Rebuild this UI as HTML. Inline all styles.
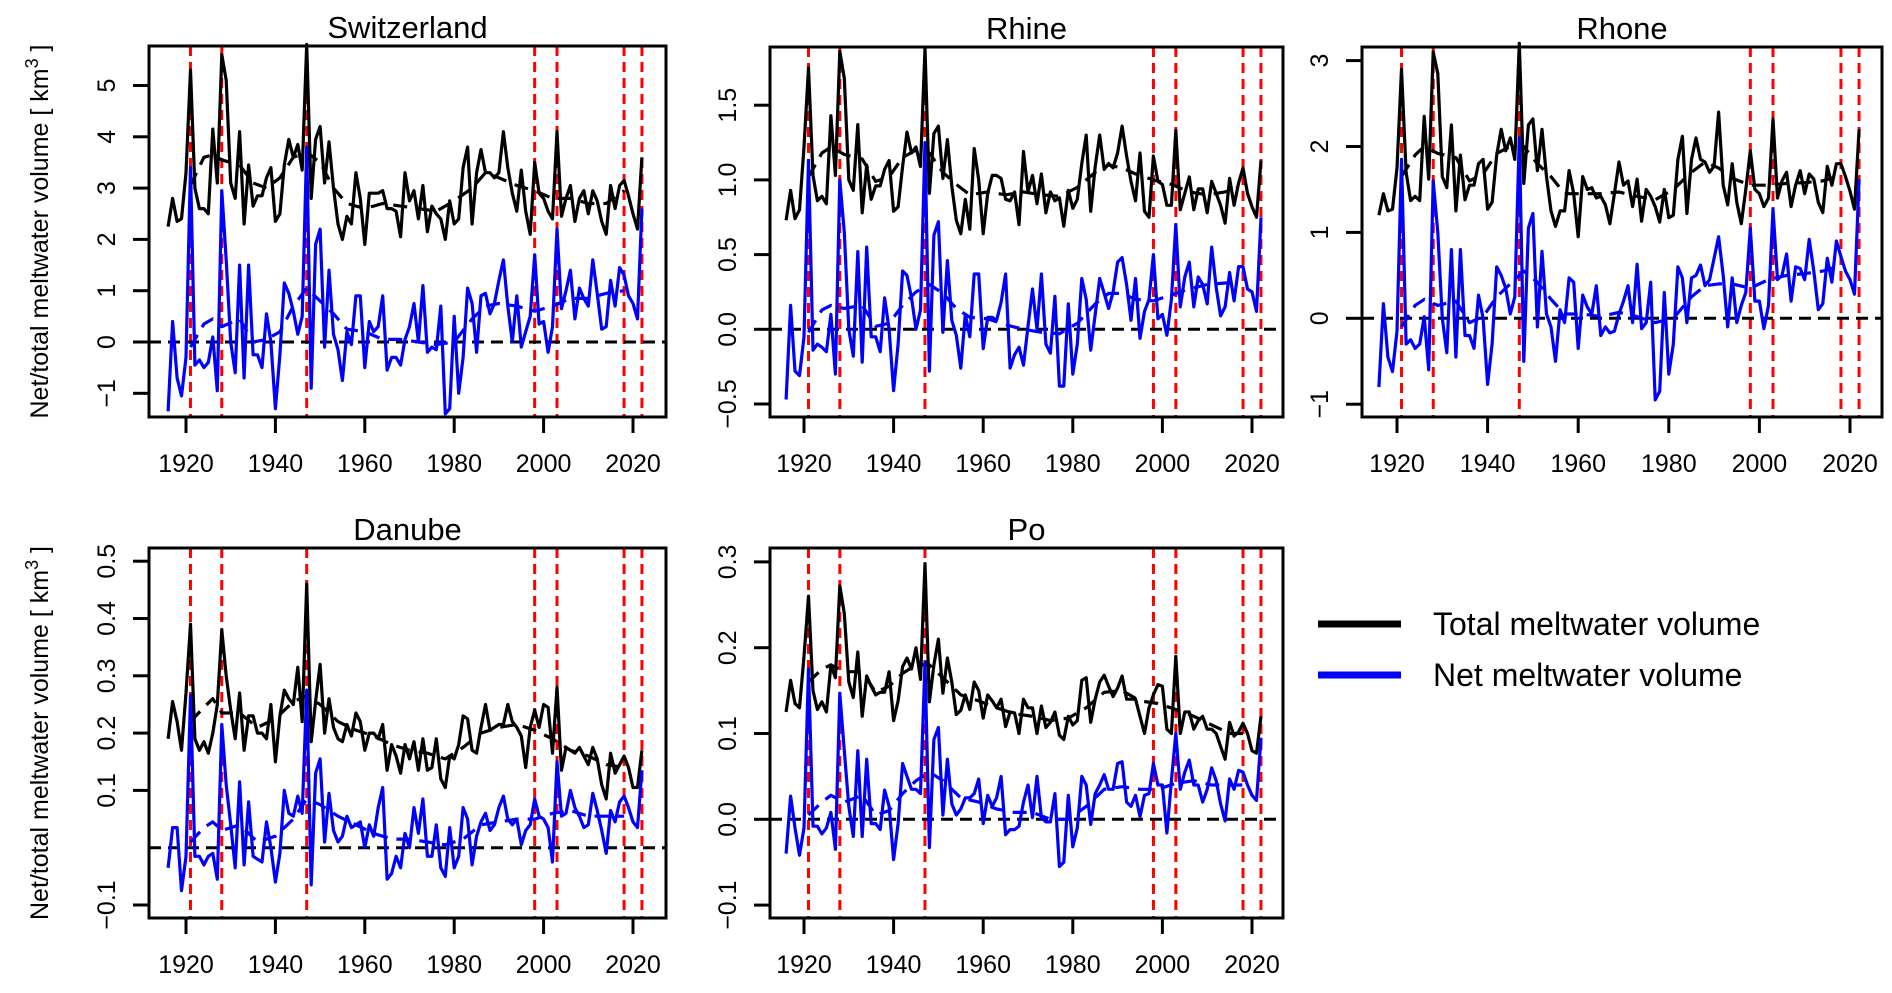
<!DOCTYPE html>
<html><head><meta charset="utf-8">
<style>
html,body{margin:0;padding:0;background:#fff;}
svg{display:block;font-family:"Liberation Sans",Arial,sans-serif;}
</style></head>
<body>
<svg id="chart" width="1892" height="993" viewBox="0 0 1892 993" xmlns="http://www.w3.org/2000/svg">
  <g>
    <line x1="1318" y1="624" x2="1401" y2="624" stroke="#000" stroke-width="7"/>
    <text x="1433" y="635" font-size="32">Total meltwater volume</text>
    <line x1="1318" y1="675" x2="1401" y2="675" stroke="#0000ff" stroke-width="7"/>
    <text x="1433" y="686" font-size="32">Net meltwater volume</text>
  </g>
</svg>
<script>
// ---- data ----
const eventYears = [1921, 1928, 1947, 1998, 2003, 2018, 2022];

const swTotal = [2.25,2.8,2.35,2.4,3.3,5.3,3.0,2.6,2.6,2.5,
 4.15,3.1,5.6,5.1,3.1,2.8,4.1,2.3,3.45,2.65,
 2.85,2.85,3.2,3.4,2.35,2.5,3.45,3.95,3.6,3.85,
 3.35,5.8,2.8,3.95,4.2,3.1,3.9,3.0,2.3,2.0,
 2.45,2.3,3.3,2.8,1.9,2.9,2.9,2.9,2.95,2.6,
 2.6,2.55,2.05,3.3,2.75,2.95,2.4,3.05,2.15,2.65,
 2.5,2.4,2.0,2.75,2.3,2.4,3.4,3.8,2.3,3.3,
 3.75,3.3,3.3,3.2,3.3,4.1,3.4,2.9,2.55,3.35,
 2.55,2.1,3.5,2.9,2.8,2.55,2.4,4.1,2.45,2.8,
 3.05,2.35,2.8,2.95,2.5,2.95,2.75,2.35,2.1,3.05,
 2.6,3.05,3.15,2.85,2.5,2.2,3.6];
const swNet = [-1.35,0.4,-0.7,-1.05,-0.3,3.4,-0.45,-0.35,-0.5,-0.4,
 0.1,-0.95,2.95,1.6,0.0,-0.6,1.5,-0.7,1.5,-0.25,
 -0.25,-0.5,0.55,0.0,-1.3,-0.25,1.15,0.95,0.6,0.15,
 0.5,3.8,-0.9,1.9,2.2,-0.1,1.4,0.15,-0.15,-0.75,
 0.2,-0.05,0.9,0.9,-0.5,0.4,0.2,0.3,0.9,-0.55,
 -0.3,-0.3,-0.45,0.05,0.3,0.75,0.0,1.1,-0.2,-0.1,
 -0.15,0.7,-1.4,-1.3,0.5,-1.0,-0.3,1.05,0.75,-0.2,
 0.9,0.95,0.55,0.75,1.2,1.6,0.7,0.0,0.9,-0.1,
 0.2,0.5,1.7,0.35,0.4,-0.2,0.3,2.2,0.65,1.0,
 1.4,0.45,1.05,0.85,0.7,1.6,0.95,0.25,0.3,1.2,
 0.7,1.45,1.3,0.9,0.75,0.45,2.6];
const swSmoothYears = [1921,1924,1926,1928,1932,1935,1938,1941,1944,1947,1950,1953,1956,1960,1964,1968,1972,1976,1980,1984,1987,1990,1994,1998,2002,2006,2010,2014,2018];
const swTotalSmooth = [3.05,3.6,3.65,3.55,3.45,3.1,3.0,3.2,3.6,3.7,3.5,3.0,2.7,2.6,2.7,2.65,2.6,2.55,2.75,3.0,3.3,3.2,3.05,2.95,2.8,2.8,2.7,2.7,2.95];
const swNetSmooth = [-0.1,0.35,0.45,0.3,0.45,0.0,0.05,0.2,0.7,1.05,0.8,0.55,0.25,0.2,0.05,0.05,0.0,-0.05,0.0,0.45,0.7,0.75,0.7,0.6,0.7,0.85,0.85,0.95,1.0];

const rhTotal = [0.73,0.93,0.74,0.80,1.22,1.75,1.03,0.86,0.89,0.84,
 1.43,1.03,1.86,1.68,1.0,0.93,1.37,0.78,1.10,0.87,
 0.96,0.96,1.07,1.13,0.79,0.82,1.09,1.32,1.18,1.22,
 1.09,1.88,0.91,1.31,1.36,1.01,1.27,0.96,0.73,0.64,
 0.87,0.67,1.21,1.0,0.64,0.91,1.03,1.03,1.01,0.87,
 0.86,0.92,0.70,1.19,0.92,1.03,0.84,1.04,0.78,0.92,
 0.86,0.88,0.69,0.93,0.81,0.87,1.11,1.30,0.79,1.09,
 1.30,1.07,1.11,1.08,1.18,1.36,1.16,0.99,0.86,1.18,
 0.79,0.75,1.16,0.99,0.97,0.83,0.83,1.33,0.80,0.91,
 1.02,0.80,0.94,0.94,0.78,0.99,0.91,0.83,0.71,1.01,
 0.83,0.98,1.08,0.91,0.82,0.75,1.13];
const rhNet = [-0.47,0.16,-0.28,-0.31,-0.05,1.13,-0.14,-0.1,-0.12,-0.15,
 0.1,-0.3,1.0,0.65,0.0,-0.18,0.52,-0.22,0.55,-0.05,
 -0.05,-0.15,0.21,0.0,-0.41,-0.1,0.39,0.36,0.21,0.0,
 0.13,1.25,-0.28,0.63,0.72,-0.02,0.46,0.06,-0.04,-0.26,
 0.1,-0.05,0.37,0.37,-0.13,0.08,0.08,0.06,0.18,0.37,
 -0.26,-0.17,-0.12,-0.24,0.02,0.27,0.0,0.37,-0.1,-0.16,
 0.22,-0.38,-0.38,0.17,-0.3,-0.1,0.34,0.2,-0.14,0.1,
 0.34,0.24,0.14,0.25,0.45,0.48,0.3,0.06,0.34,-0.06,
 0.12,0.2,0.5,0.07,0.1,-0.04,0.2,0.7,0.15,0.35,
 0.45,0.15,0.35,0.3,0.17,0.55,0.28,0.09,0.15,0.38,
 0.19,0.42,0.42,0.27,0.25,0.12,0.75];
const rhSmoothYears = [1921,1924,1926,1929,1933,1936,1939,1942,1945,1948,1951,1954,1957,1961,1965,1969,1973,1977,1981,1985,1988,1991,1994,1998,2002,2006,2010,2014,2017];
const rhTotalSmooth = [1.02,1.18,1.22,1.17,1.14,0.99,1.02,1.15,1.2,1.18,1.05,0.97,0.9,0.92,0.9,0.92,0.9,0.89,0.95,1.05,1.1,1.08,1.04,1.0,0.97,0.92,0.9,0.92,0.95];
const rhNetSmooth = [-0.02,0.13,0.16,0.14,0.16,0.02,0.04,0.16,0.25,0.3,0.24,0.14,0.08,0.07,0.03,0.0,-0.02,-0.03,0.04,0.17,0.24,0.24,0.2,0.19,0.23,0.27,0.3,0.31,0.31];

const roTotal = [1.2,1.45,1.25,1.27,1.75,2.9,1.7,1.37,1.42,1.37,
 2.35,1.62,3.1,2.85,1.65,1.52,2.25,1.25,1.9,1.38,
 1.55,1.55,1.8,1.85,1.27,1.35,1.9,2.2,1.95,2.1,
 1.85,3.2,1.57,2.25,2.32,1.72,2.2,1.65,1.25,1.07,
 1.25,1.25,1.72,1.45,0.95,1.65,1.5,1.52,1.4,1.42,
 1.32,1.1,1.45,1.82,1.55,1.6,1.3,1.62,1.13,1.5,
 1.42,1.3,1.12,1.5,1.17,1.2,1.85,2.12,1.22,1.85,
 2.1,1.85,1.82,1.7,1.77,2.4,1.55,1.32,1.8,1.35,
 1.1,1.5,1.95,1.5,1.45,1.3,1.4,2.32,1.4,1.6,
 1.7,1.3,1.55,1.72,1.45,1.68,1.62,1.35,1.23,1.77,
 1.55,1.8,1.8,1.65,1.48,1.27,2.2];
const roNet = [-0.8,0.17,-0.45,-0.62,-0.15,1.85,-0.3,-0.25,-0.35,-0.3,
 0.02,-0.6,1.6,1.0,0.0,-0.4,0.8,-0.45,0.8,-0.2,
 -0.2,-0.35,0.27,0.0,-0.77,-0.3,0.6,0.5,0.35,0.05,
 0.25,2.1,-0.5,1.05,1.22,-0.1,0.78,0.05,-0.1,-0.5,
 0.1,-0.05,0.47,0.42,-0.35,0.27,0.13,0.05,0.38,-0.2,
 -0.1,-0.17,-0.15,0.05,0.2,0.38,-0.05,0.63,-0.12,-0.05,
 0.42,-0.95,-0.85,0.3,-0.65,-0.3,0.6,0.47,-0.05,0.47,
 0.5,0.62,0.38,0.45,0.7,0.95,0.5,-0.1,0.47,-0.05,
 0.15,0.3,1.05,0.2,0.2,-0.12,0.15,1.27,0.45,0.5,
 0.75,0.2,0.6,0.58,0.45,0.92,0.55,0.1,0.17,0.7,
 0.42,0.9,0.72,0.55,0.45,0.28,1.62];
const roSmoothYears = [1921,1924,1926,1929,1933,1936,1939,1942,1945,1948,1951,1954,1957,1961,1965,1969,1973,1977,1981,1985,1988,1991,1994,1998,2002,2006,2010,2014,2017];
const roTotalSmooth = [1.65,1.9,2.0,1.92,1.87,1.6,1.68,1.92,2.0,2.0,1.8,1.65,1.45,1.45,1.45,1.47,1.42,1.38,1.5,1.7,1.82,1.75,1.63,1.55,1.55,1.57,1.58,1.6,1.65];
const roNetSmooth = [-0.1,0.15,0.22,0.15,0.2,-0.05,0.02,0.25,0.4,0.55,0.42,0.22,0.05,0.05,0.02,0.07,0.02,-0.05,0.0,0.25,0.38,0.4,0.4,0.35,0.45,0.5,0.52,0.55,0.6];

const daTotal = [0.19,0.255,0.22,0.17,0.27,0.39,0.19,0.17,0.185,0.165,
 0.2,0.25,0.38,0.3,0.24,0.19,0.27,0.17,0.23,0.23,
 0.2,0.2,0.19,0.25,0.15,0.23,0.275,0.26,0.25,0.315,
 0.22,0.46,0.185,0.255,0.32,0.2,0.26,0.21,0.19,0.185,
 0.215,0.195,0.235,0.22,0.17,0.2,0.2,0.19,0.215,0.135,
 0.18,0.16,0.13,0.18,0.155,0.185,0.135,0.19,0.135,0.14,
 0.19,0.12,0.105,0.16,0.155,0.18,0.23,0.225,0.17,0.165,
 0.21,0.25,0.205,0.21,0.215,0.215,0.25,0.22,0.21,0.195,
 0.14,0.21,0.24,0.21,0.25,0.245,0.165,0.28,0.135,0.175,
 0.17,0.165,0.175,0.16,0.145,0.175,0.155,0.11,0.085,0.165,
 0.13,0.145,0.16,0.14,0.105,0.105,0.17];
const daNet = [-0.035,0.035,0.035,-0.075,-0.015,0.265,-0.015,-0.015,-0.03,-0.015,
 -0.01,-0.055,0.215,0.11,0.04,-0.035,0.115,-0.03,0.08,-0.015,
 -0.02,-0.025,0.045,0.0,-0.06,-0.01,0.1,0.06,0.055,0.09,
 0.06,0.275,-0.065,0.13,0.155,0.01,0.095,0.03,0.01,0.02,
 0.055,0.035,0.04,0.045,0.0,0.04,0.02,0.07,0.105,-0.055,
 -0.045,-0.015,-0.035,0.025,0.0,0.07,0.025,0.085,-0.015,-0.015,
 0.04,-0.035,-0.05,0.035,-0.035,-0.015,0.07,0.05,-0.03,0.02,
 0.045,0.06,0.03,0.04,0.07,0.09,0.05,0.04,0.05,0.005,
 0.03,0.04,0.085,0.055,0.05,0.035,-0.025,0.15,0.055,0.06,
 0.1,0.07,0.055,0.035,0.04,0.095,0.065,0.03,-0.01,0.065,
 0.045,0.08,0.09,0.07,0.045,0.035,0.135];
const daSmoothYears = [1921,1924,1926,1928,1932,1936,1940,1944,1947,1950,1954,1958,1962,1966,1970,1974,1978,1982,1986,1990,1994,1998,2002,2006,2010,2014,2018];
const daTotalSmooth = [0.22,0.245,0.26,0.235,0.235,0.21,0.225,0.255,0.265,0.25,0.22,0.205,0.195,0.18,0.17,0.165,0.155,0.175,0.2,0.21,0.215,0.205,0.19,0.17,0.16,0.145,0.14];
const daNetSmooth = [0.01,0.035,0.045,0.03,0.04,0.01,0.02,0.05,0.085,0.075,0.055,0.04,0.025,0.015,0.015,0.01,0.005,0.015,0.04,0.045,0.05,0.05,0.06,0.065,0.055,0.055,0.055];

const poTotal = [0.125,0.162,0.135,0.13,0.19,0.26,0.15,0.128,0.137,0.125,
 0.18,0.165,0.272,0.24,0.16,0.142,0.195,0.12,0.167,0.155,
 0.145,0.148,0.148,0.172,0.115,0.138,0.178,0.188,0.175,0.2,
 0.163,0.298,0.137,0.18,0.21,0.147,0.188,0.16,0.122,0.127,
 0.145,0.128,0.16,0.15,0.118,0.145,0.138,0.13,0.14,0.108,
 0.125,0.124,0.1,0.14,0.13,0.13,0.1,0.132,0.107,0.113,
 0.125,0.098,0.093,0.12,0.11,0.115,0.162,0.165,0.113,0.14,
 0.16,0.168,0.155,0.143,0.153,0.167,0.14,0.14,0.14,0.12,
 0.1,0.13,0.145,0.157,0.155,0.105,0.1,0.19,0.1,0.125,
 0.125,0.105,0.115,0.12,0.105,0.105,0.1,0.085,0.07,0.113,
 0.097,0.102,0.112,0.1,0.08,0.077,0.12];
const poNet = [-0.04,0.027,-0.01,-0.042,-0.01,0.175,-0.008,-0.008,-0.017,-0.01,
 0.008,-0.035,0.147,0.08,0.015,-0.02,0.08,-0.02,0.07,-0.005,
 -0.005,-0.012,0.034,0.015,-0.047,-0.005,0.065,0.05,0.035,0.035,
 0.03,0.183,-0.033,0.093,0.107,0.005,0.07,0.018,0.005,0.012,
 0.025,0.025,0.03,0.047,-0.005,0.028,0.015,0.025,0.05,-0.018,
 -0.012,-0.012,-0.008,0.02,0.04,0.002,0.05,0.002,-0.003,-0.003,
 0.03,-0.055,-0.05,0.028,-0.032,-0.01,0.05,0.04,-0.006,0.03,
 0.04,0.052,0.035,0.035,0.065,0.067,0.02,0.015,0.028,0.003,
 0.028,0.03,0.065,0.04,0.04,-0.016,0.045,0.1,0.035,0.055,
 0.069,0.04,0.04,0.02,0.035,0.06,0.045,0.018,-0.002,0.047,
 0.035,0.057,0.055,0.04,0.028,0.022,0.095];
const poSmoothYears = [1921,1924,1926,1929,1933,1936,1939,1942,1945,1948,1951,1955,1959,1963,1967,1971,1975,1979,1983,1987,1991,1995,1999,2003,2007,2011,2015,2018];
const poTotalSmooth = [0.16,0.175,0.18,0.172,0.172,0.148,0.155,0.17,0.18,0.18,0.165,0.145,0.138,0.13,0.123,0.12,0.115,0.118,0.13,0.148,0.15,0.138,0.135,0.128,0.12,0.11,0.1,0.1];
const poNetSmooth = [0.005,0.02,0.028,0.02,0.028,0.005,0.01,0.03,0.045,0.055,0.045,0.025,0.02,0.012,0.008,0.008,0.0,0.0,0.015,0.035,0.038,0.035,0.035,0.042,0.045,0.04,0.04,0.04];

const xTickYears = [1920, 1940, 1960, 1980, 2000, 2020];
const swTicks = [-1, 0, 1, 2, 3, 4, 5];
const swTickLabels = ["\u22121","0","1","2","3","4","5"];
const rhTicks = [-0.5, 0, 0.5, 1.0, 1.5];
const rhTickLabels = ["\u22120.5","0.0","0.5","1.0","1.5"];
const roTicks = [-1, 0, 1, 2, 3];
const roTickLabels = ["\u22121","0","1","2","3"];
const daTicks = [-0.1, 0.1, 0.2, 0.3, 0.4, 0.5];
const daTickLabels = ["\u22120.1","0.1","0.2","0.3","0.4","0.5"];
const poTicks = [-0.1, 0, 0.1, 0.2, 0.3];
const poTickLabels = ["\u22120.1","0.0","0.1","0.2","0.3"];

const years = [];
for (let y = 1916; y <= 2022; y++) years.push(y);

// ---- drawing ----
const NS = "http://www.w3.org/2000/svg";
const svg = document.getElementById("chart");
function mk(tag, attrs, parent) {
  const e = document.createElementNS(NS, tag);
  for (const k in attrs) e.setAttribute(k, attrs[k]);
  parent.appendChild(e);
  return e;
}

function drawPanel(p) {
  const g = mk("g", {}, svg);
  
  
  const xs = yr => p.x1920 + (yr - 1920) * (p.x2020 - p.x1920) / 100;
  const ys = v => p.y0 - v * p.unit;
  const [L, T, R, B] = p.box;

  eventYears.forEach(yr => {
    const l = mk("line", {x1: xs(yr), x2: xs(yr), y1: T, y2: B, stroke: "#ff0000", "stroke-width": 3, "stroke-dasharray": "10,6"}, g);
    
    
  });
  const z = mk("line", {x1: L, x2: R, y1: ys(0), y2: ys(0), stroke: "#000", "stroke-width": 3, "stroke-dasharray": "12,7"}, g);
  
  

  function poly(xv, yv, color, dash, name) {
    const pts = [];
    for (let i = 0; i < Math.min(xv.length, yv.length); i++) pts.push(xs(xv[i]).toFixed(1) + "," + ys(yv[i]).toFixed(1));
    const attrs = {points: pts.join(" "), fill: "none", stroke: color, "stroke-width": 3.2, "stroke-linejoin": "round"};
    if (dash) attrs["stroke-dasharray"] = dash;
    const e = mk("polyline", attrs, g);
    
    
  }
  poly(p.smoothYears, p.totalSmooth, "#000", "14,9", "total-trend-line");
  poly(p.smoothYears, p.netSmooth, "#0000ff", "14,9", "net-trend-line");
  poly(years, p.total, "#000", null, "total-meltwater-line");
  poly(years, p.net, "#0000ff", null, "net-meltwater-line");

  const bx = mk("rect", {x: L, y: T, width: R - L, height: B - T, fill: "none", stroke: "#000", "stroke-width": 3}, g);
  
  

  const t = mk("text", {x: (L + R) / 2, y: T - 8, "text-anchor": "middle", "font-size": 31}, g);
  t.textContent = p.title;
  
  

  xTickYears.forEach(yr => {
    const tk = mk("line", {x1: xs(yr), x2: xs(yr), y1: B, y2: B + 16, stroke: "#000", "stroke-width": 3}, g);
    
    
    const lb = mk("text", {x: xs(yr), y: B + 55, "text-anchor": "middle", "font-size": 25}, g);
    lb.textContent = yr;
    
    
  });
  p.ticks.forEach((v, i) => {
    const tk = mk("line", {x1: L - 16, x2: L, y1: ys(v), y2: ys(v), stroke: "#000", "stroke-width": 3}, g);
    
    
    const lx = L - 34;
    const lb = mk("text", {x: lx, y: ys(v), "text-anchor": "middle", "font-size": 25, transform: "rotate(-90 " + lx + " " + ys(v) + ")"}, g);
    lb.textContent = p.tickLabels[i];
    
    
  });
  if (p.ylabel) {
    const cy = (T + B) / 2, cx = 48;
    const yl = mk("text", {x: cx, y: cy, "text-anchor": "middle", "font-size": 25, transform: "rotate(-90 " + cx + " " + cy + ")"}, g);
    yl.innerHTML = 'Net/total meltwater volume [ km<tspan dy="-10" font-size="18">3</tspan><tspan dy="10"> ]</tspan>';
    
    
  }
}

drawPanel({key: "switzerland", title: "Switzerland", box: [149, 46, 666, 417], x1920: 186, x2020: 633, y0: 342, unit: 51.3,
  total: swTotal, net: swNet, smoothYears: swSmoothYears, totalSmooth: swTotalSmooth, netSmooth: swNetSmooth, ticks: swTicks, tickLabels: swTickLabels, ylabel: true});
drawPanel({key: "rhine", title: "Rhine", box: [770, 47, 1283, 417], x1920: 804, x2020: 1252, y0: 329.3, unit: 149.4,
  total: rhTotal, net: rhNet, smoothYears: rhSmoothYears, totalSmooth: rhTotalSmooth, netSmooth: rhNetSmooth, ticks: rhTicks, tickLabels: rhTickLabels});
drawPanel({key: "rhone", title: "Rhone", box: [1362, 47, 1882, 417], x1920: 1397, x2020: 1850, y0: 318.3, unit: 85.9,
  total: roTotal, net: roNet, smoothYears: roSmoothYears, totalSmooth: roTotalSmooth, netSmooth: roNetSmooth, ticks: roTicks, tickLabels: roTickLabels});
drawPanel({key: "danube", title: "Danube", box: [149, 548, 666, 918], x1920: 186, x2020: 633, y0: 847.7, unit: 573,
  total: daTotal, net: daNet, smoothYears: daSmoothYears, totalSmooth: daTotalSmooth, netSmooth: daNetSmooth, ticks: daTicks, tickLabels: daTickLabels, ylabel: true});
drawPanel({key: "po", title: "Po", box: [770, 548, 1283, 918], x1920: 804, x2020: 1252, y0: 819.3, unit: 858,
  total: poTotal, net: poNet, smoothYears: poSmoothYears, totalSmooth: poTotalSmooth, netSmooth: poNetSmooth, ticks: poTicks, tickLabels: poTickLabels});
</script>
</body></html>
